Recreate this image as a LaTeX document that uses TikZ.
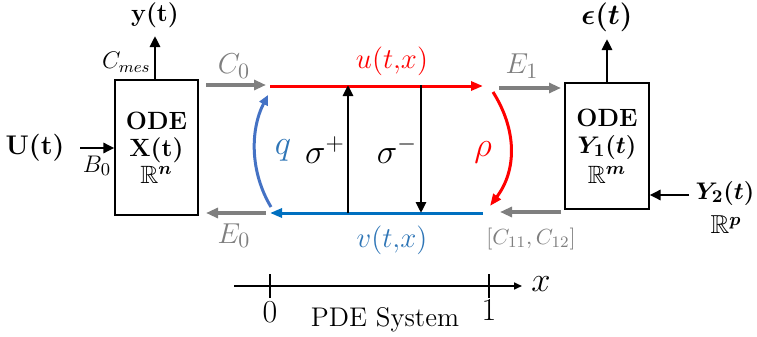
\documentclass[tikz,border=0pt]{standalone}
\usepackage{amsmath,amssymb,bm}
\usetikzlibrary{arrows.meta,positioning,calc}
\definecolor{ink}{HTML}{000000}
\definecolor{arrgray}{HTML}{7F7F7F}
\definecolor{ured}{HTML}{FF0000}
\definecolor{vblue}{HTML}{0070C0}
\definecolor{qblue}{HTML}{4472C4}
\definecolor{lblue}{HTML}{2E75B6}
\tikzset{
  odebox/.style={draw=ink, line width=0.6pt, fill=white, align=center, inner sep=2pt, minimum width=41.5pt, font=\fontsize{12.5}{13.5}\selectfont},
  lbl/.style={font=\fontsize{12}{14}\selectfont, text=ink, inner sep=1pt},
  biglbl/.style={lbl, font=\fontsize{16}{18}\selectfont},
  graylbl/.style={lbl, text=arrgray, font=\fontsize{15.5}{18}\selectfont},
  blackarrow/.style={-{Triangle[length=5.5pt,width=5pt]}, line width=1.4pt, draw=ink},
  grayarrow/.style={-{Triangle[length=6pt,width=5pt]}, line width=2pt, draw=arrgray},
  redarrow/.style={-{Triangle[length=6pt,width=4.5pt]}, line width=1.5pt, draw=ured},
  bluearrow/.style={-{Triangle[length=6pt,width=4.5pt]}, line width=1.5pt, draw=vblue},
  qarrow/.style={-{Triangle[length=5pt,width=4.5pt]}, line width=1.5pt, draw=qblue},
  axisarrow/.style={-{Triangle[length=4pt,width=3.5pt]}, line width=0.8pt, draw=ink},
  tick/.style={line width=1.3pt, draw=ink}
}
\begin{document}
\begin{tikzpicture}[x=0.5pt, y=-0.5pt]
\useasboundingbox (0,0) rectangle (757,337);
\node[odebox, minimum height=67.5pt] (odex) at (156.5,147.5) {\textbf{ODE}\\\textbf{X(t)}\\$\mathbb{R}^{\boldsymbol{n}}$};
\node[odebox, minimum height=63pt, minimum width=42pt] (odey) at (607,146) {\textbf{ODE}\\$\boldsymbol{Y_1(t)}$\\[1.5pt]$\mathbb{R}^{\boldsymbol{m}}$};
\coordinate (uL) at (270,86); \coordinate (uR) at (483,86);
\coordinate (vR) at (483,213); \coordinate (vL) at (270,213);
\coordinate (sigp) at (348,150); \coordinate (sigm) at (421,150);
\draw[redarrow] (uL) -- (uR); \draw[bluearrow] (vR) -- (vL);
\draw[blackarrow] (sigp |- vL) -- ([yshift=0.5pt]sigp |- uL); \draw[blackarrow] ([yshift=0.5pt]sigm |- uL) -- (sigm |- vL);
\coordinate (qs) at (271,207); \coordinate (qe) at (268,95);
\draw[qarrow] (qs) .. controls (250,172) and (250,130) .. (qe);
\coordinate (rs) at (493,92); \coordinate (re) at (490,206);
\draw[redarrow] (rs) .. controls (517,130) and (517,170) .. (re);
\coordinate (c0s) at (206,85); \coordinate (c0e) at (266,85);
\coordinate (e0s) at (266,213); \coordinate (e0e) at (206,213);
\coordinate (e1s) at (499,88); \coordinate (e1e) at (561,88);
\coordinate (c1s) at (561,212); \coordinate (c1e) at (500,212);
\draw[grayarrow] (c0s) -- (c0e); \draw[grayarrow] (e0s) -- (e0e);
\draw[grayarrow] (e1s) -- (e1e); \draw[grayarrow] (c1s) -- (c1e);
\node[lbl, font=\fontsize{12.5}{14}\selectfont] (yt) at (155,15) {\textbf{y(t)}};
\draw[blackarrow] (odex.north -| 155,0) -- (155,36);
\node[lbl, anchor=east] (cmes) at (153,62) {$C_{mes}$};
\node[lbl, font=\fontsize{13.5}{15}\selectfont] (ut) at (35,148) {\textbf{U(t)}};
\coordinate (us) at (80,148);
\draw[blackarrow] (us) -- (odex.west |- us);
\node[lbl, font=\fontsize{12.5}{14}\selectfont] (b0) at (97,166) {$B_0$};
\node[lbl, font=\fontsize{13.5}{15}\selectfont] (eps) at (607,17) {$\boldsymbol{\epsilon(t)}$};
\draw[blackarrow] (odey.north) -- (607,39);
\node[lbl, font=\fontsize{13}{15}\selectfont] (y2) at (725,193) {$\boldsymbol{Y_2(t)}$};
\node[lbl, font=\fontsize{13}{15}\selectfont] (rp) at (726,225) {$\mathbb{R}^{\boldsymbol{p}}$};
\coordinate (y2s) at (689,195);
\draw[blackarrow] (y2s) -- (odey.east |- y2s);
\node[graylbl] (c0) at (234,66) {$C_0$};
\node[graylbl] (e0) at (234,236) {$E_0$};
\node[graylbl] (e1) at (522,66) {$E_1$};
\node[graylbl, font=\fontsize{11}{13}\selectfont] (c1) at (531,239) {$[C_{11},C_{12}]$};
\node[lbl, text=ured, font=\fontsize{14.5}{16}\selectfont] (ulbl) at (392,61) {$u(t{,}x)$};
\node[lbl, text=lblue, font=\fontsize{14.5}{16}\selectfont] (vlbl) at (392,240) {$v(t{,}x)$};
\node[biglbl, text=lblue, font=\fontsize{17}{19}\selectfont] (qlbl) at (283,150) {$q$};
\node[biglbl, text=ured, font=\fontsize{17}{19}\selectfont] (rholbl) at (483,152) {$\rho$};
\node[biglbl, font=\fontsize{17}{19}\selectfont] (splbl) at (325,150) {$\sigma^+$};
\node[biglbl, font=\fontsize{17}{19}\selectfont] (smlbl) at (397,150) {$\sigma^-$};
\coordinate (ax0) at (234,286); \coordinate (ax1) at (522,286);
\draw[axisarrow] (ax0) -- (ax1);
\coordinate (t0) at (270,286); \coordinate (t1) at (489,286);
\draw[tick] ([yshift=6pt]t0) -- ([yshift=-6pt]t0); \draw[tick] ([yshift=6pt]t1) -- ([yshift=-6pt]t1);
\node[biglbl] (xlbl) at (541,284) {$x$};
\node[biglbl] (zero) at (270,312) {0};
\node[biglbl] (one) at (489,310) {1};
\node[lbl, font=\fontsize{13.5}{15}\selectfont] (pde) at (385,320) {PDE System};
\end{tikzpicture}
\end{document}
